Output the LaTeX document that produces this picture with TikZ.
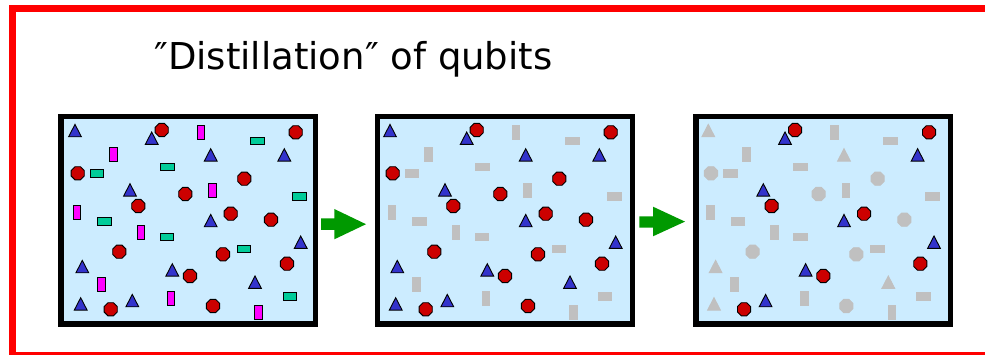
\documentclass[tikz,border=0pt]{standalone}
\usepackage{fontspec}
\newfontfamily\titlefont{DejaVu Sans}
\definecolor{panelblue}{HTML}{CCECFF}
\definecolor{triblue}{HTML}{3333CC}
\definecolor{circred}{HTML}{CC0000}
\definecolor{rectmag}{HTML}{FF00FF}
\definecolor{rectteal}{HTML}{00CC99}
\definecolor{lostgrey}{HTML}{C0C0C0}
\definecolor{arrowgreen}{HTML}{009900}
\definecolor{framered}{HTML}{FF0000}
\tikzset{
  qtri/.pic={\path[pic actions] (-6.4,6.1) -- (6.4,6.1) -- (0,-6.3) -- cycle;},
  qoct/.pic={\path[pic actions] (22.5:7.1) -- (67.5:7.1) -- (112.5:7.1) -- (157.5:7.1)
      -- (202.5:7.1) -- (247.5:7.1) -- (292.5:7.1) -- (337.5:7.1) -- cycle;},
  qvrect/.pic={\path[pic actions] (-3.9,-6.9) rectangle (3.9,6.9);},
  qhrect/.pic={\path[pic actions] (-6.9,-3.9) rectangle (6.9,3.9);},
  outl/.style={draw=black, line width=0.9},
  lostS/.style={fill=lostgrey, draw=lostgrey, line width=0.9},
  blueT/.style={fill=triblue, outl},
  redC/.style={fill=circred, outl},
  magR/.style={fill=rectmag, outl},
  tealR/.style={fill=rectteal, outl},
  panelbox/.style={draw=black, line width=5.3, fill=panelblue, inner sep=0pt,
      minimum width=254.7pt, minimum height=207.4pt},
  greenarrow/.style={fill=arrowgreen},
}
\def\keepTri{93.4/24.3, 226/41, 71.7/76, 152.4/106.7, 242.4/128.3, 114/156, 74/186.7}
\def\lostTri{16.7/16.7, 152.4/41, 24/152.7, 196.7/168.3, 22.4/190}
\def\keepCirc{103.4/16, 237.4/18.3, 80/92, 172.4/99.7, 228.7/149.7, 131.7/162, 52.4/195.3}
\def\lostCirc{19.4/59.3, 186/64.7, 127/80, 212.7/105.7, 61/137.7, 164.7/140.3, 154.7/192}
\def\vRects{142.7/18.3, 55/40.7, 154.4/76.7, 18.7/98.3, 82.7/118.7, 43/170.7, 112.7/184.7, 200.4/198.7}
\def\hRects{199/27, 109/53, 38.7/59.3, 241/82.7, 46.4/107.7, 108.7/123, 185.7/135, 231.7/182.3}
\newcommand\qubitset{%
  \foreach \x/\y in \vRects {\pic[vR] at (\x,\y) {qvrect};}
  \foreach \x/\y in \hRects {\pic[hR] at (\x,\y) {qhrect};}
  \foreach \x/\y in \lostCirc {\pic[lostC] at (\x,\y) {qoct};}
  \foreach \x/\y in \keepCirc {\pic[keepC] at (\x,\y) {qoct};}
  \foreach \x/\y in \lostTri {\pic[lostT] at (\x,\y) {qtri};}
  \foreach \x/\y in \keepTri {\pic[keepT] at (\x,\y) {qtri};}
}
\begin{document}
\begin{tikzpicture}[x=1pt, y=-1pt]
  \useasboundingbox (0,0) rectangle (985,355);
  \clip (0,0) rectangle (985,355);
  \fill[white] (0,0) rectangle (985,355);
  % red frame
  \draw[framered, line width=7] (12.5,8.5) rectangle (995,355.5);
  % title
  \node[anchor=base west, inner sep=0pt, font=\titlefont\fontsize{37}{44}\selectfont]
    (title) at (154,69.3) {″Distillation″ of qubits};
  % panels
  \node[panelbox] (p1) at (188.3,220.35) {};
  \node[panelbox] (p2) at (505,220.35) {};
  \node[panelbox] (p3) at (823.2,220.35) {};
  % panel contents
  \begin{scope}[shift={(58.3,114)}, keepT/.style=blueT, lostT/.style=blueT,
      keepC/.style=redC, lostC/.style=redC, vR/.style=magR, hR/.style=tealR]
    \qubitset
  \end{scope}
  \begin{scope}[shift={(373.3,114)}, keepT/.style=blueT, lostT/.style=blueT,
      keepC/.style=redC, lostC/.style=redC, vR/.style=lostS, hR/.style=lostS]
    \qubitset
  \end{scope}
  \begin{scope}[shift={(691.6,114)}, keepT/.style=blueT, lostT/.style=lostS,
      keepC/.style=redC, lostC/.style=lostS, vR/.style=lostS, hR/.style=lostS]
    \qubitset
  \end{scope}
  % green arrows
  \fill[greenarrow] (321,218.3) -- (334.3,218.3) -- (334.3,209) -- (366,224.2)
    -- (334.3,239.3) -- (334.3,230) -- (321,230) -- cycle;
  \fill[greenarrow] (639.3,216.5) -- (653,216.5) -- (653,206.7) -- (685,221.6)
    -- (653,236.3) -- (653,227.7) -- (639.3,227.7) -- cycle;
\end{tikzpicture}
\end{document}
